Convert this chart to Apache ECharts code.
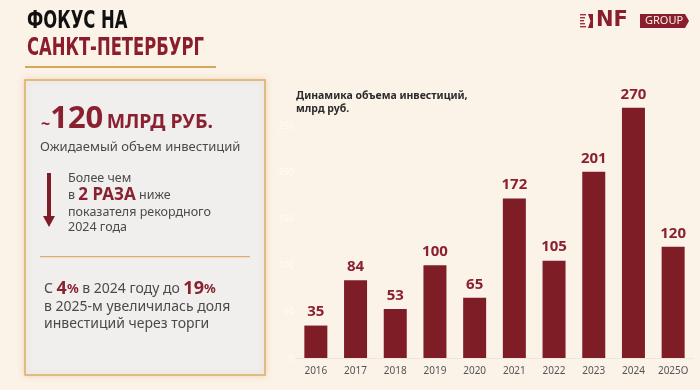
<!DOCTYPE html>
<html>
<head>
<meta charset="utf-8">
<script src="https://cdn.jsdelivr.net/npm/echarts@6/dist/echarts.min.js"></script>
<style>
  html, body { margin: 0; padding: 0; background: #fbf2e8; }
  #chart { width: 700px; height: 390px; }
</style>
</head>
<body>
<div id="chart"></div>
<script>
// данные
const years = ['2016', '2017', '2018', '2019', '2020', '2021', '2022', '2023', '2024', '2025О'];
const investments = [35, 84, 53, 100, 65, 172, 105, 201, 270, 120];
const yTicks = [0, 50, 100, 150, 200, 250];

const red = '#7f1d27';
const textRed = '#8a2131';
const gray = '#4a4a4a';
const font = 'Noto Sans';

const chart = echarts.init(document.getElementById('chart'));

const option = {
  backgroundColor: '#fbf2e8',
  animation: false,
  grid: { left: 296, right: 7, top: 80, bottom: 32 },
  xAxis: {
    type: 'category',
    data: years,
    axisLine: { lineStyle: { color: '#ece6de' } },
    axisTick: { show: false },
    axisLabel: { color: '#555', fontSize: 10, fontFamily: font, margin: 8 }
  },
  yAxis: {
    type: 'value',
    min: yTicks[0],
    max: 300,
    interval: 50,
    axisLine: { show: false },
    axisTick: { show: false },
    splitLine: { show: false },
    axisLabel: {
      color: 'rgba(255,255,255,0.8)', fontSize: 9, fontFamily: font, margin: 2,
      formatter: v => (yTicks.includes(v) ? v : '')
    }
  },
  series: [{
    type: 'bar',
    data: investments,
    barWidth: 23,
    itemStyle: { color: red },
    label: {
      show: true,
      position: 'top',
      distance: 6,
      color: textRed,
      fontSize: 15,
      fontWeight: 'bold',
      fontFamily: font
    }
  }],
  graphic: [
    // заголовок
    { type: 'text', x: 27, y: 10, scaleX: 0.76, style: { text: 'ФОКУС НА', fill: '#111', font: 'bold 24px "DejaVu Sans Condensed"' } },
    { type: 'text', x: 27, y: 37, scaleX: 0.76, style: { text: 'САНКТ-ПЕТЕРБУРГ', fill: '#8a1e2c', font: 'bold 24px "DejaVu Sans Condensed"' } },
    { type: 'rect', shape: { x: 25, y: 66, width: 191, height: 2 }, style: { fill: '#d9a65a' } },

    // логотип
    { type: 'group', x: 580, y: 14, children: [
      { type: 'rect', shape: { x: 0, y: 0, width: 6, height: 1.4 }, style: { fill: '#a3303c' } },
      { type: 'rect', shape: { x: 0, y: 3, width: 5, height: 1.4 }, style: { fill: '#a3303c' } },
      { type: 'rect', shape: { x: 0, y: 6, width: 4, height: 1.4 }, style: { fill: '#a3303c' } },
      { type: 'rect', shape: { x: 0, y: 9, width: 5, height: 1.4 }, style: { fill: '#a3303c' } },
      { type: 'rect', shape: { x: 0, y: 12, width: 6, height: 1.4 }, style: { fill: '#a3303c' } },
      { type: 'polygon', shape: { points: [[8, 0], [13, 0], [13, 14], [8, 14], [10.5, 7]] }, style: { fill: '#8a1e2c' } },
      { type: 'text', x: 16, y: -4, style: { text: 'NF', fill: '#8a1e2c', font: 'bold 21px "DejaVu Sans"' } },
      { type: 'polygon', shape: { points: [[60, 0], [105, 0], [109, 7], [105, 14], [60, 14]] }, style: { fill: '#8a1e2c' } },
      { type: 'text', x: 65, y: 1, style: { text: 'GROUP', fill: '#fbf2e8', font: '11px "Noto Sans"' } }
    ] },

    // левая панель
    { type: 'rect', shape: { x: 25, y: 80, width: 240, height: 295 },
      style: { fill: '#f0efed', stroke: '#d9ad6a', lineWidth: 1.5, shadowBlur: 6, shadowColor: 'rgba(217,166,90,0.35)' } },
    { type: 'text', x: 41, y: 104, style: {
      text: '{t|~}{n|120} {u|МЛРД РУБ.}',
      rich: {
        t: { fill: textRed, font: 'bold 16px "Noto Sans"', padding: [10, 0, 0, 0] },
        n: { fill: textRed, font: 'bold 31px "Noto Sans"' },
        u: { fill: textRed, font: 'bold 19.5px "Noto Sans"', padding: [6, 0, 0, 0] }
      }
    } },
    { type: 'text', x: 40, y: 141, style: { text: 'Ожидаемый объем инвестиций', fill: gray, font: '13px "Noto Sans"' } },
    { type: 'rect', shape: { x: 47, y: 173, width: 4, height: 44 }, style: { fill: red } },
    { type: 'polygon', shape: { points: [[43, 216], [55, 216], [49, 227]] }, style: { fill: red } },
    { type: 'text', x: 68, y: 171, style: {
      text: 'Более чем\n{s|в }{b|2 РАЗА}{s| ниже}\nпоказателя рекордного\n2024 года',
      fill: gray, font: '12.5px "Noto Sans"', lineHeight: 15,
      rich: {
        s: { fill: gray, font: '12.5px "Noto Sans"', lineHeight: 19 },
        b: { fill: textRed, font: 'bold 17px "Noto Sans"', lineHeight: 19 }
      }
    } },
    { type: 'rect', shape: { x: 40, y: 256, width: 210, height: 1.2 }, style: { fill: '#d9ad6a' } },
    { type: 'text', x: 44, y: 279, style: {
      text: '{g|С }{r|4}{p|%}{g| в 2024 году до }{r|19}{p|%}\n{g|в 2025-м увеличилась доля}\n{g|инвестиций через торги}',
      rich: {
        g: { fill: gray, font: '14px "Noto Sans"', lineHeight: 17 },
        r: { fill: textRed, font: 'bold 18px "Noto Sans"', lineHeight: 20 },
        p: { fill: textRed, font: 'bold 13px "Noto Sans"', lineHeight: 20 }
      }
    } },

    // заголовок графика
    { type: 'text', x: 296, y: 90, style: {
      text: 'Динамика объема инвестиций,\nмлрд руб.', fill: '#2b2b2b', font: 'bold 10.5px "Noto Sans"', lineHeight: 13
    } }
  ]
};

chart.setOption(option);
</script>
</body>
</html>
